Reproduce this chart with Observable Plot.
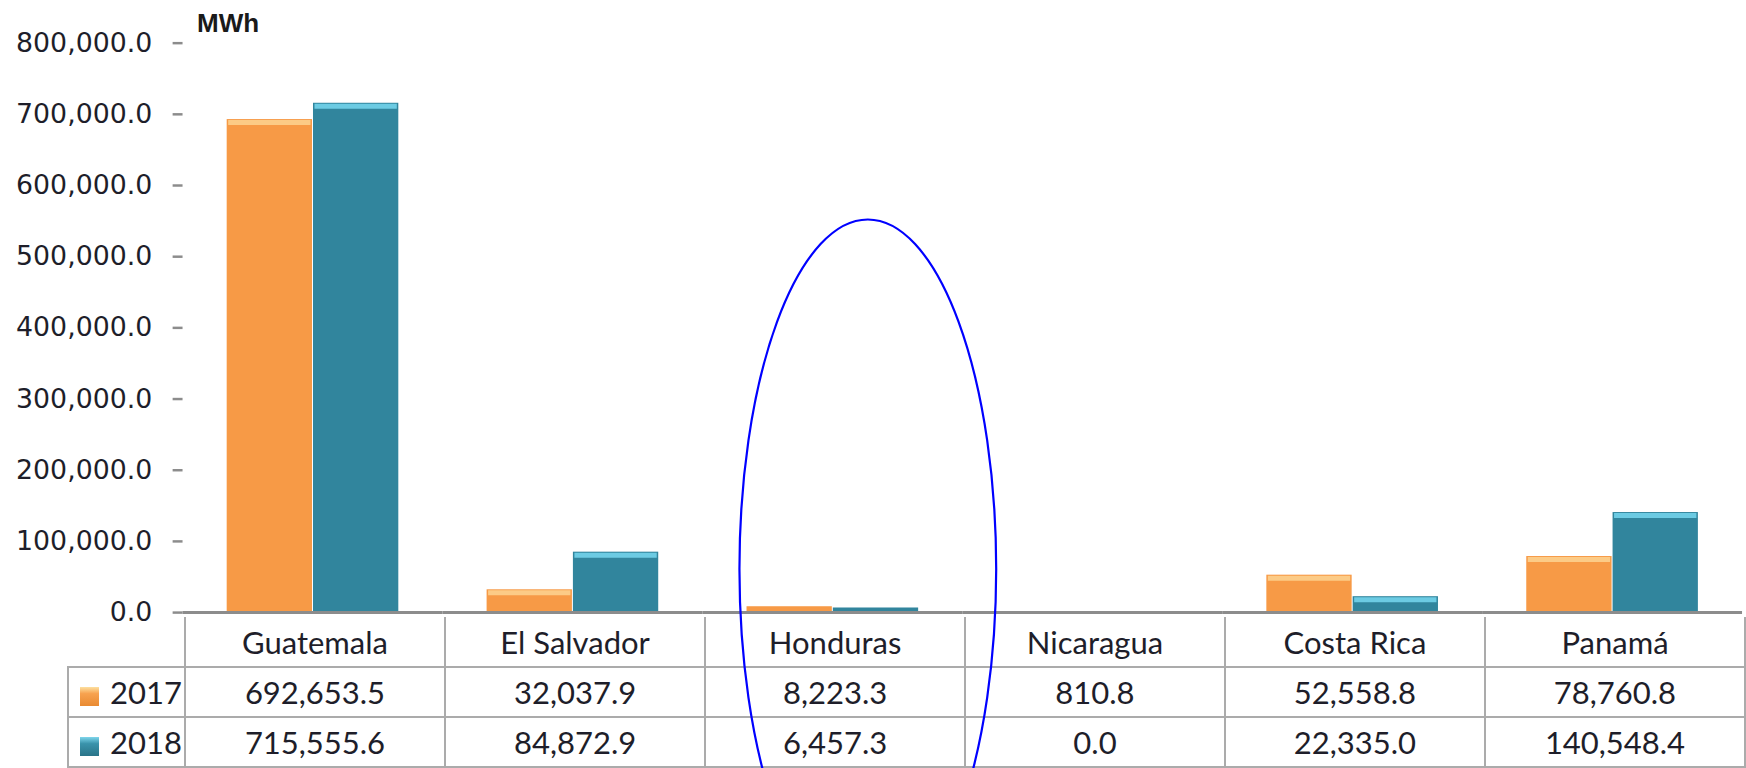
<!DOCTYPE html>
<html>
<head>
<meta charset="utf-8">
<script src="https://cdn.jsdelivr.net/npm/d3@7"></script>
<script src="https://cdn.jsdelivr.net/npm/@observablehq/plot@0.6"></script>
<style>
  html, body { margin: 0; padding: 0; background: #fff; width: 1746px; height: 768px; overflow: hidden; }
  #wrap { position: relative; width: 1746px; height: 768px; overflow: hidden; }
  #chart { position: absolute; left: 0; top: 0; }
  #unit { position: absolute; left: 197px; top: 8px; font: bold 26px "Liberation Sans", Arial, sans-serif; color: #1a1a1a; }
  table.data { position: absolute; left: 67px; top: 617px; border-collapse: collapse; table-layout: fixed;
    font-family: Lato, "Open Sans", sans-serif; font-size: 31px; color: #1e1e2a; }
  table.data td { border: 2.5px solid #ababab; text-align: center; padding: 0; overflow: hidden; white-space: nowrap; }
  table.data tr.head td { border-top: none; height: 49px; }
  table.data tr.head td.blank { border-left: none; border-top: none; }
  table.data tr.head td.first { border-left: 2.5px solid #8c8c8c; }
  table.data tr.row td { height: 48px; }
  table.data td.leg { text-align: left; padding-left: 11px; }
  table.data td.axis { border-left: 2.5px solid #8c8c8c; }
  .key { display: inline-block; width: 19px; height: 19px; vertical-align: -2px; margin-right: 11px; }
  #overlay { position: absolute; left: 0; top: 0; pointer-events: none; }
</style>
</head>
<body>
<div id="wrap">
  <div id="chart"></div>
  <div id="unit"></div>
</div>
<script>
// ---- data ----
const countries = ["Guatemala", "El Salvador", "Honduras", "Nicaragua", "Costa Rica", "Panamá"];
const years = ["2017", "2018"];
const values2017 = [692653.5, 32037.9, 8223.3, 810.8, 52558.8, 78760.8];
const values2018 = [715555.6, 84872.9, 6457.3, 0.0, 22335.0, 140548.4];
const yTicks = [0, 100000, 200000, 300000, 400000, 500000, 600000, 700000, 800000];
const unitLabel = "MWh";
const highlightCountry = "Honduras";

// ---- styles ----
const barColors = ["#F79A46", "#31859D"];
const topColors = ["#FCCB86", "#6CCBE3"];
const keyGradients = [
  "linear-gradient(#fde0a0 0%, #f7a24f 35%, #e98a32 100%)",
  "linear-gradient(#7fd6ec 0%, #3a93ab 35%, #2a7488 100%)"
];

const rows = countries.flatMap((c, i) => [
  {country: c, year: years[0], value: values2017[i]},
  {country: c, year: years[1], value: values2018[i]}
]);
const tall = rows.filter(d => d.value > 10000);

const plot = Plot.plot({
  width: 1760,
  height: 640,
  marginLeft: 184,
  marginRight: 4,
  marginTop: 43,
  marginBottom: 23,
  style: {fontFamily: "'DejaVu Sans', Verdana, sans-serif", fontSize: "27px", color: "#1e1e2a", background: "transparent"},
  fx: {domain: countries, padding: 0, axis: null},
  x: {domain: years, paddingInner: 0.0, paddingOuter: 0.49, axis: null},
  y: {domain: [0, 800000], axis: null},
  color: {domain: years, range: barColors},
  marks: [
    Plot.barY(rows, {fx: "country", x: "year", y: "value", fill: "year", insetLeft: 0.5, insetRight: 0.5}),
    Plot.tickY(tall.filter(d => d.year === years[0]), {fx: "country", x: "year", y: "value", stroke: topColors[0], strokeWidth: 5, dy: 3, inset: 2}),
    Plot.tickY(tall.filter(d => d.year === years[1]), {fx: "country", x: "year", y: "value", stroke: topColors[1], strokeWidth: 5, dy: 3, inset: 2}),
    Plot.ruleY([0], {stroke: "#8c8c8c", strokeWidth: 3}),
    Plot.axisY({
      ticks: yTicks, tickFormat: ",.1f", tickSize: 10, tickPadding: 21, label: null,
      stroke: "#8c8c8c", strokeWidth: 2.5, fill: "#1e1e2a", fontSize: 27, line: true
    })
  ]
});
document.getElementById("chart").appendChild(plot);
document.getElementById("unit").textContent = unitLabel;

// ---- data table below the chart ----
const fx = plot.scale("fx");
const colW = fx.bandwidth;
const table = document.createElement("table");
table.className = "data";
const colgroup = document.createElement("colgroup");
const c0 = document.createElement("col"); c0.style.width = (fx.apply(countries[0]) - 67) + "px"; colgroup.appendChild(c0);
countries.forEach(() => { const c = document.createElement("col"); c.style.width = colW + "px"; colgroup.appendChild(c); });
table.appendChild(colgroup);
const head = document.createElement("tr"); head.className = "head";
const blank = document.createElement("td"); blank.className = "blank"; head.appendChild(blank);
countries.forEach((c, i) => { const td = document.createElement("td"); td.textContent = c; if (i === 0) td.className = "first"; head.appendChild(td); });
table.appendChild(head);
const fmt = d3.format(",.1f");
[values2017, values2018].forEach((vals, k) => {
  const tr = document.createElement("tr"); tr.className = "row";
  const leg = document.createElement("td"); leg.className = "leg";
  const key = document.createElement("span"); key.className = "key"; key.style.background = keyGradients[k];
  leg.appendChild(key); leg.appendChild(document.createTextNode(years[k]));
  tr.appendChild(leg);
  vals.forEach((v, i) => { const td = document.createElement("td"); td.textContent = fmt(v); if (i === 0) td.className = "axis"; tr.appendChild(td); });
  table.appendChild(tr);
});
document.getElementById("wrap").appendChild(table);

// ---- annotation ellipse around the Honduras column ----
const y = plot.scale("y");
const cx = fx.apply(highlightCountry) + colW * 0.61;
const cy = y.apply(67000);
const ry = cy - y.apply(554000);
const rx = colW * 0.49;
const ov = d3.select("#wrap").append("svg").attr("id", "overlay").attr("width", 1746).attr("height", 768);
ov.append("ellipse").attr("cx", cx).attr("cy", cy).attr("rx", rx).attr("ry", ry)
  .attr("fill", "none").attr("stroke", "#0000ff").attr("stroke-width", 2.2);
</script>
</body>
</html>
